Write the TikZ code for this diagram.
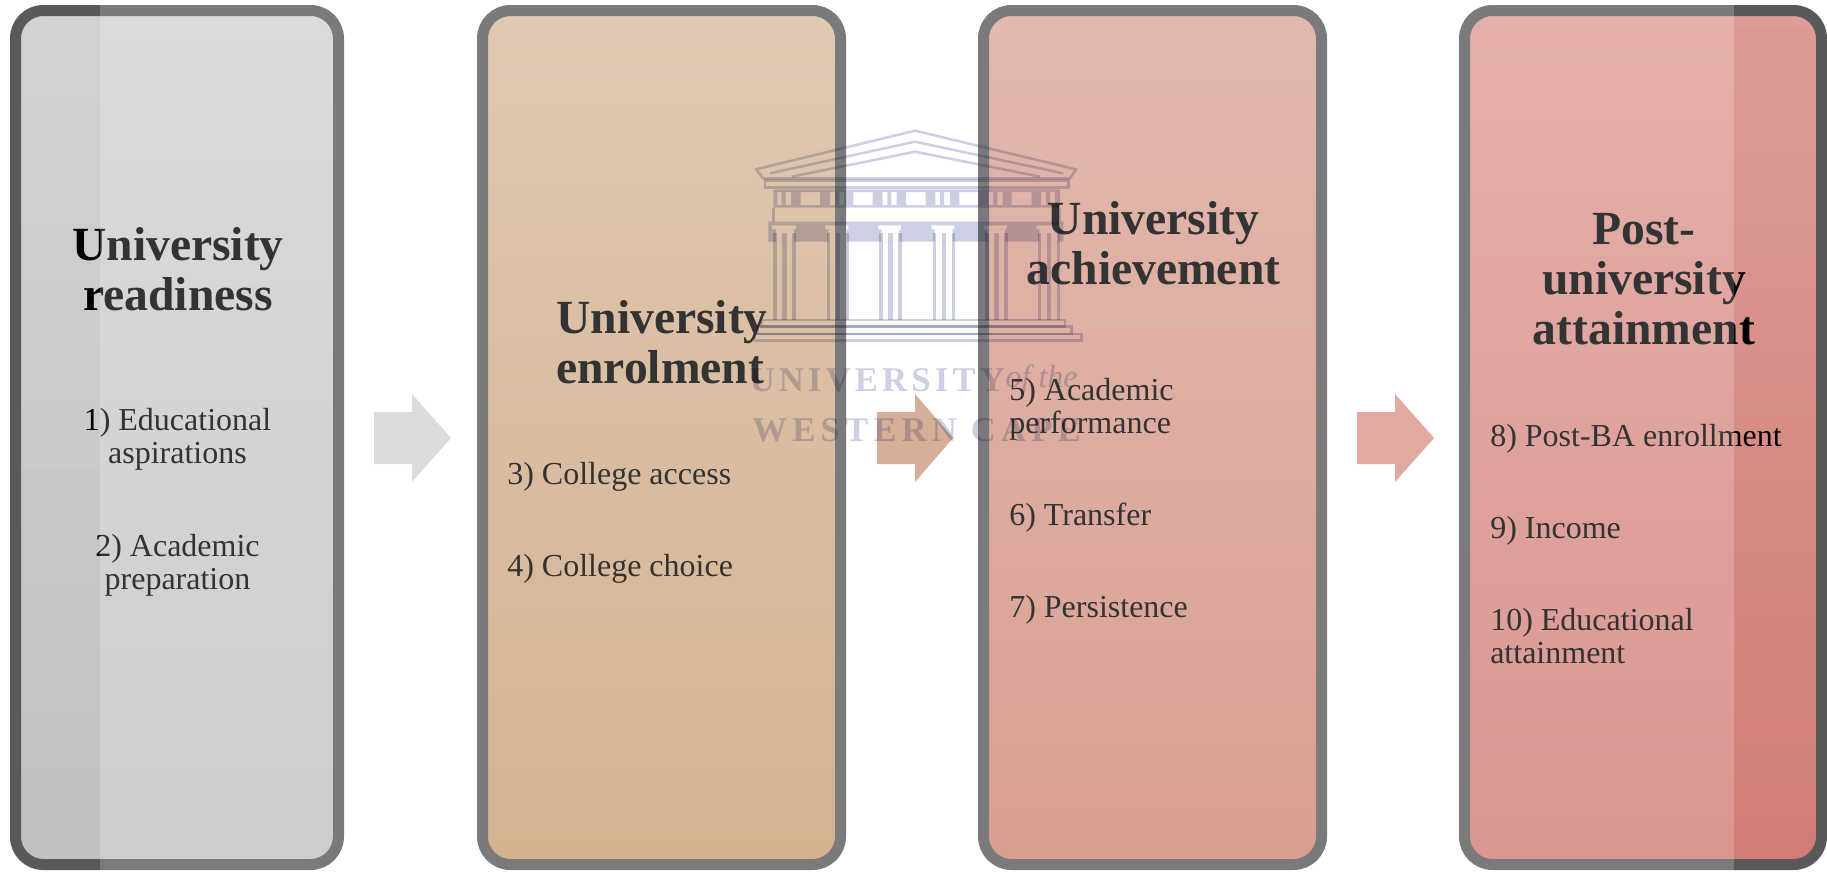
\documentclass[tikz,border=0pt]{standalone}
\usepackage{fontspec}
\setmainfont{Liberation Serif}
\definecolor{wm}{HTML}{CDD0E3}
\definecolor{edge}{HTML}{7A7A7A}
\tikzset{
  x=0.75pt,y=-0.75pt,
  panel/.style={rectangle,draw=edge,line width=8.25pt,rounded corners=21pt,inner sep=0pt,outer sep=0pt},
  title/.style={font=\fontsize{35.7pt}{37.5pt}\selectfont\bfseries,text=black!80,align=center,inner sep=0pt},
  titleL/.style={title,align=left},
  item/.style={font=\fontsize{24pt}{24.8pt}\selectfont,text=black!80,align=center,inner sep=0pt},
  itemL/.style={item,align=left,anchor=west},
  burn/.style={fill=black!20,blend mode=color burn},
  wmline/.style={draw=wm,line width=1.9pt},
  wmfill/.style={fill=wm,even odd rule},
  wmtext/.style={text=wm,inner sep=0pt}
}
\newcommand{\colrow}[1]{%
  \fill[wm] (#1-30,370) rectangle (#1-20,630);
  \fill[wm] (#1-3,370) rectangle (#1+11,630);
  \fill[wm] (#1+27,370) rectangle (#1+37,630);
}
\begin{document}
\begin{tikzpicture}
\useasboundingbox (0,0) rectangle (1827,871);
% panels
\node[panel,top color={rgb,255:red,219;green,219;blue,219},bottom color={rgb,255:red,205;green,205;blue,205},minimum width=242.25pt,minimum height=640.5pt] (p1) at (177,437.5) {};
\node[panel,top color={rgb,255:red,224;green,200;blue,178},bottom color={rgb,255:red,212;green,178;blue,144},minimum width=268.5pt,minimum height=640.5pt] (p2) at (661.5,437.5) {};
\node[panel,top color={rgb,255:red,227;green,185;blue,174},bottom color={rgb,255:red,216;green,160;blue,146},minimum width=253.5pt,minimum height=640.5pt] (p3) at (1152.5,437.5) {};
\node[panel,top color={rgb,255:red,228;green,176;blue,171},bottom color={rgb,255:red,218;green,150;blue,145},minimum width=267.75pt,minimum height=640.5pt] (p4) at (1643,437.5) {};
% arrows
\fill[fill={rgb,255:red,220;green,220;blue,220}] (374,412) -- (412,412) -- (412,394) -- (451,438) -- (412,482) -- (412,464) -- (374,464) -- cycle;
\fill[fill={rgb,255:red,215;green,174;blue,152}] (877,412) -- (915,412) -- (915,394) -- (953,438) -- (915,482) -- (915,464) -- (877,464) -- cycle;
\fill[fill={rgb,255:red,225;green,170;blue,160}] (1357,412) -- (1395,412) -- (1395,394) -- (1434,438) -- (1395,482) -- (1395,464) -- (1357,464) -- cycle;
% text
\node[title] (t1) at (178,269) {University\\readiness};
\node[item] (a1) at (177.5,439.5) {1) Educational\\aspirations};
\node[item] (a2) at (177.5,565) {2) Academic\\preparation};
\node[titleL] (t2) at (662,342) {University\\enrolment};
\node[itemL] (a3) at (507,477) {3) College access};
\node[itemL] (a4) at (507,569) {4) College choice};
\node[title] (t3) at (1153.5,243) {University\\achievement};
\node[itemL] (a5) at (1009,409.5) {5) Academic\\performance};
\node[itemL] (a6) at (1009,518) {6) Transfer};
\node[itemL] (a7) at (1009,610) {7) Persistence};
\node[title] (t4) at (1644,279) {Post-\\university\\attainment};
\node[itemL] (a8) at (1490,439) {8) Post-BA enrollment};
\node[itemL] (a9) at (1490,531) {9) Income};
\node[itemL] (a10) at (1490,636.5) {10) Educational\\attainment};
% side bands
\begin{scope}
\clip[rounded corners=24.75pt] (10,5) rectangle (344,870);
\fill[burn] (0,0) rectangle (100,871);
\end{scope}
\begin{scope}
\clip[rounded corners=24.75pt] (1459,5) rectangle (1827,870);
\fill[burn] (1734,0) rectangle (1827,871);
\end{scope}
% watermark
\begin{scope}[blend mode=multiply]
\begin{scope}[shift={(720,110)},x=0.25pt,y=-0.25pt]
\draw[wmline,line join=round] (108,178) -- (585,62) -- (1068,178) -- (1050,205) -- (130,205) -- cycle;
\draw[wmline] (150,190) -- (585,95) -- (1030,190);
\draw[wmline] (215,200) -- (585,125) -- (960,200);
\draw[wmline] (135,212) rectangle (1045,233);
\fill[wmfill] (160,238) rectangle (1020,293)
  (242,246) rectangle (300,285) (400,246) rectangle (458,285) (558,246) rectangle (617,285) (718,246) rectangle (775,285) (875,246) rectangle (935,285)
  (172,246) rectangle (185,285) (197,246) rectangle (213,285)
  (330,246) rectangle (345,285) (358,246) rectangle (372,285)
  (488,246) rectangle (502,285) (514,246) rectangle (530,285)
  (646,246) rectangle (660,285) (672,246) rectangle (690,285)
  (805,246) rectangle (820,285) (832,246) rectangle (848,285)
  (963,246) rectangle (978,285) (990,246) rectangle (1005,285);
\draw[wmline] (160,293) -- (160,335) (1020,293) -- (1020,335);
\fill[wmfill] (145,335) rectangle (1030,395)
  (155,346) rectangle (228,358) (315,346) rectangle (385,358) (475,346) rectangle (543,358) (635,346) rectangle (703,358) (792,346) rectangle (860,358) (950,346) rectangle (1020,358)
  (168,358) rectangle (222,395) (325,358) rectangle (380,395) (484,358) rectangle (538,395) (644,358) rectangle (698,395) (802,358) rectangle (855,395) (958,358) rectangle (1015,395);
\colrow{190}\colrow{350}\colrow{508}\colrow{668}\colrow{826}\colrow{983}
\draw[wmline] (125,630) -- (1035,630) -- (1035,650) -- (125,650) -- cycle;
\draw[wmline] (112,650) -- (1055,650) -- (1055,672) -- (112,672) -- cycle;
\draw[wmline] (105,672) rectangle (1085,692);
\node[wmtext,font=\fontsize{26pt}{26pt}\selectfont\bfseries\addfontfeature{LetterSpace=12}] (wm1) at (472,812) {UNIVERSITY};
\node[wmtext,font=\fontsize{24pt}{24pt}\selectfont\itshape] (wm2) at (965,808) {of the};
\node[wmtext,font=\fontsize{26pt}{26pt}\selectfont\bfseries\addfontfeature{LetterSpace=15}] (wm3) at (590,960) {WESTERN CAPE};
\end{scope}
\end{scope}
\end{tikzpicture}
\end{document}
